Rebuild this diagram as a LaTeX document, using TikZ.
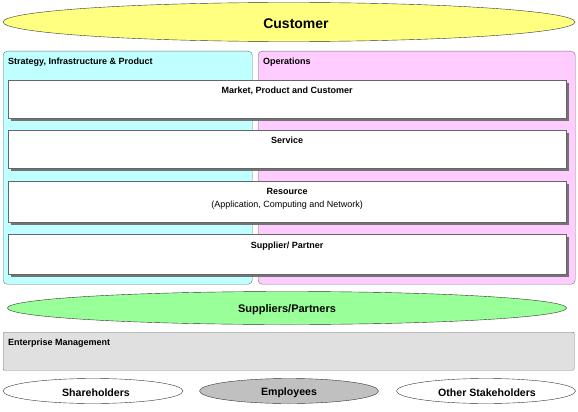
\documentclass[tikz,border=0pt]{standalone}
\usepackage{fontspec}
\setmainfont{Liberation Sans}
\usepackage{tikz}
\usetikzlibrary{positioning, shapes.geometric, shadows}
\definecolor{colorCustomer}{HTML}{FFFF80}
\definecolor{colorStrategy}{HTML}{C0FFFF}
\definecolor{colorOperations}{HTML}{FFCCFF}
\definecolor{colorSuppliers}{HTML}{99FF99}
\definecolor{colorEnterprise}{HTML}{E0E0E0}
\definecolor{colorEmployees}{HTML}{C0C0C0}
\tikzset{
  oval/.style={ellipse, draw=black!80, thin, inner sep=0pt, font=\bfseries},
  ovaltext/.style={font=\fontsize{10.6}{13}\selectfont\bfseries, inner sep=0pt},
  panel/.style={rectangle, rounded corners=4pt, draw=black!55, thin, anchor=north west, inner sep=0pt},
  layerbox/.style={rectangle, draw=black!60, thin, fill=white, anchor=north west, inner sep=0pt,
    minimum width=558pt, drop shadow={shadow xshift=2.5pt, shadow yshift=-2.5pt, fill=black!55, opacity=1}},
  smalltitle/.style={font=\fontsize{9}{10}\selectfont\bfseries, inner sep=0pt, anchor=north west},
  boxtitle/.style={font=\fontsize{9}{10}\selectfont\bfseries, inner sep=0pt, anchor=north},
}
\begin{document}
\begin{tikzpicture}[x=1pt, y=-1pt]
\useasboundingbox (0,0) rectangle (578,412);
% customer on top
\node[oval, fill=colorCustomer, minimum width=572pt, minimum height=39pt] (customer) at (289,22) {};
\node[ovaltext, font=\fontsize{14}{16}\selectfont\bfseries] (customerlbl) at (296,24) {Customer};
% the two domains
\node[panel, fill=colorStrategy, minimum width=249pt, minimum height=233pt] (strategy) at (3,51) {};
\node[panel, fill=colorOperations, minimum width=317pt, minimum height=233pt] (operations) at (258,51) {};
\node[smalltitle] (strategylbl) at (8,58) {Strategy, Infrastructure \& Product};
\node[smalltitle] (operationslbl) at (263,58) {Operations};
% horizontal layers
\node[layerbox, minimum height=38pt] (market) at (8,80) {};
\node[layerbox, minimum height=38pt] (service) at (8,130) {};
\node[layerbox, minimum height=41pt] (resource) at (8,181) {};
\node[layerbox, minimum height=40pt] (supplier) at (8,234) {};
\node[boxtitle, below=6.5pt of market.north] (marketlbl) {Market, Product and Customer};
\node[boxtitle, below=6.5pt of service.north] (servicelbl) {Service};
\node[boxtitle, below=7.5pt of resource.north] (resourcelbl) {Resource};
\node[boxtitle, below=5.5pt of resourcelbl, font=\fontsize{9}{10}\selectfont] (resourcesub) {(Application, Computing and Network)};
\node[boxtitle, below=7.5pt of supplier.north] (supplierlbl) {Supplier/ Partner};
% suppliers and enterprise
\node[oval, fill=colorSuppliers, minimum width=559pt, minimum height=33pt] (suppliers) at (287,308) {};
\node[ovaltext, font=\fontsize{11}{13}\selectfont\bfseries] (supplierslbl) at (287,310) {Suppliers/Partners};
\node[panel, rounded corners=1pt, fill=colorEnterprise, minimum width=571pt, minimum height=38pt] (enterprise) at (3,332) {};
\node[smalltitle] (enterpriselbl) at (8,339) {Enterprise Management};
% stakeholders
\node[oval, fill=white, minimum width=180pt, minimum height=25pt] (shareholders) at (93,391) {};
\node[oval, fill=colorEmployees, minimum width=179pt, minimum height=25pt] (employees) at (289,391) {};
\node[oval, fill=white, minimum width=179pt, minimum height=25pt] (others) at (486,391) {};
\node[ovaltext] at (96,392.5) (shareholderslbl) {Shareholders};
\node[ovaltext] at (289,392.5) (employeeslbl) {Employees};
\node[ovaltext] at (487,392.5) (otherslbl) {Other Stakeholders};
\end{tikzpicture}
\end{document}
